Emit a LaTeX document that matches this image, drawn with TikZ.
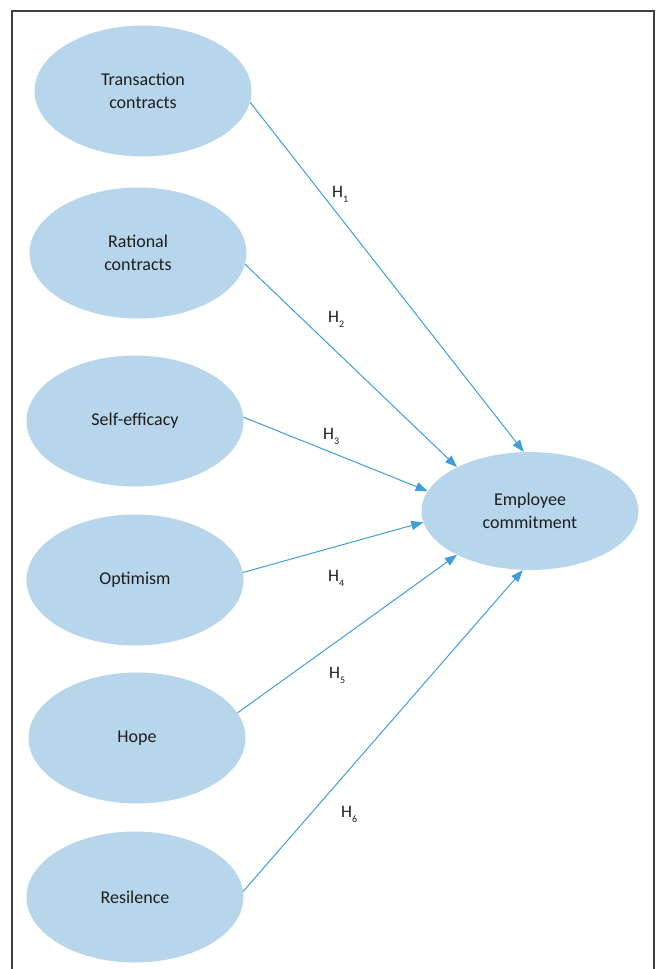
\documentclass[tikz,border=0pt]{standalone}
\usepackage{fontspec}
\setmainfont{Carlito}
\usetikzlibrary{arrows.meta,shapes.geometric}

\definecolor{bubble}{HTML}{B7D6EB}
\definecolor{link}{HTML}{3F9DDA}
\definecolor{ink}{HTML}{1E1E1E}

% hypothesis label with a low subscript
\newcommand{\hypo}[1]{H\raisebox{-5pt}{\fontsize{10}{10}\selectfont #1}}

\begin{document}
\begin{tikzpicture}[
    x=1pt, y=-1pt,
    construct/.style={ellipse, fill=bubble, draw=none, inner sep=0pt,
                      minimum width=217pt, minimum height=131pt, text=ink,
                      align=center, font=\fontsize{18}{23}\selectfont},
    arrow/.style={-{Triangle[length=12pt, width=9pt]}, link, line width=1pt},
    hyp/.style={text=ink, inner sep=0pt, anchor=base west,
                font=\fontsize{17.5}{18}\selectfont},
  ]
    \useasboundingbox (0,0) rectangle (657,969);

    % Frame
    \draw[black!75, line width=1.4pt] (12,980) -- (12,11) -- (654,11) -- (654,980);

    % Predictors
    \node[construct] (trans)  at (143,91)  {Transaction\\contracts};
    \node[construct] (ratio)  at (138,253) {Rational\\contracts};
    \node[construct] (selfef) at (135,421) {Self-efficacy};
    \node[construct] (optim)  at (135,580) {Optimism};
    \node[construct] (hope)   at (137,738) {Hope};
    \node[construct] (resil)  at (135,897) {Resilence};

    % Outcome
    \node[construct, minimum height=118pt] (commit) at (530,511) {Employee\\commitment};

    % Hypotheses
    \draw[arrow] (trans.-6)  -- (commit.96);
    \draw[arrow] (ratio.-6)  -- (commit.149);
    \draw[arrow] (selfef.2)  -- (commit.169);
    \draw[arrow] (optim.4)   -- (commit.186);
    \draw[arrow] (hope.14)   -- (commit.211);
    \draw[arrow] (resil.3)   -- (commit.263);

    \node[hyp] (h1) at (332,197) {\hypo{1}};
    \node[hyp] (h2) at (328,322) {\hypo{2}};
    \node[hyp] (h3) at (323,439) {\hypo{3}};
    \node[hyp] (h4) at (328,581) {\hypo{4}};
    \node[hyp] (h5) at (329,678) {\hypo{5}};
    \node[hyp] (h6) at (341,817) {\hypo{6}};
\end{tikzpicture}
\end{document}
